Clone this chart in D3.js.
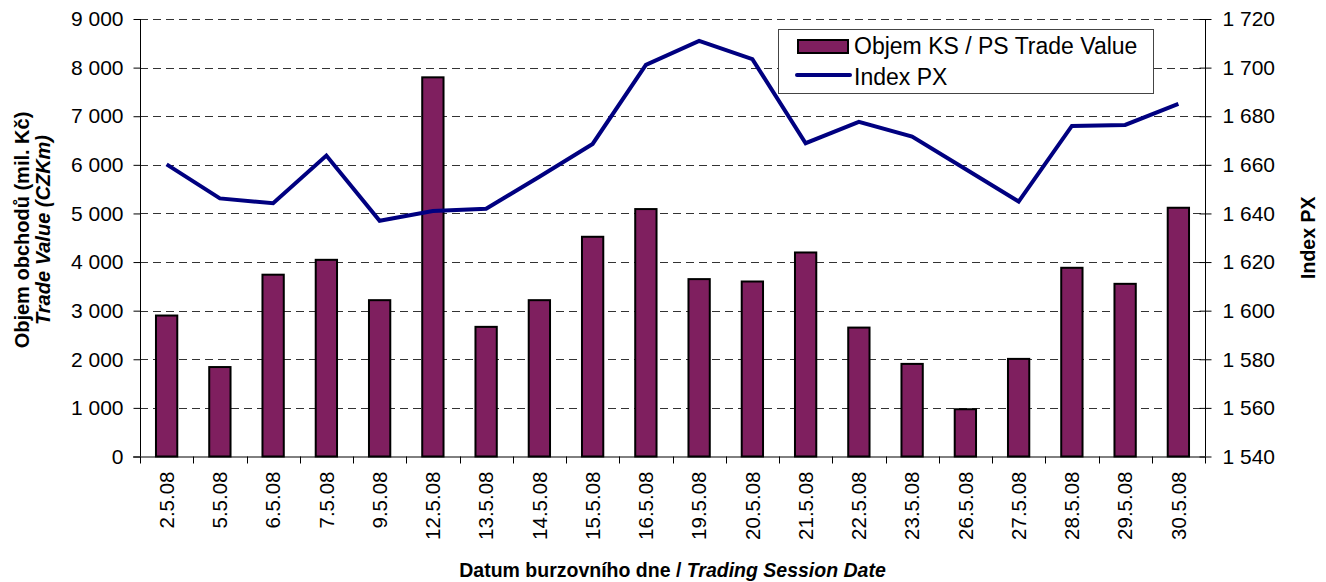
<!DOCTYPE html>
<html><head><meta charset="utf-8">
<script src="https://cdn.jsdelivr.net/npm/d3@7"></script>
<style>body{margin:0;background:#fff}svg{display:block;font-family:"Liberation Sans",Arial,sans-serif}</style>
</head><body><svg id="c" width="1326" height="582"></svg>
<script>
const dates = ["2.5.08","5.5.08","6.5.08","7.5.08","9.5.08","12.5.08","13.5.08","14.5.08","15.5.08","16.5.08","19.5.08","20.5.08","21.5.08","22.5.08","23.5.08","26.5.08","27.5.08","28.5.08","29.5.08","30.5.08"];
const tradeValue = [2900,1840,3740,4046,3216,7800,2667,3216,4520,5090,3649,3600,4197,2652,1905,972,2008,3882,3552,5117];
const indexPX = [1660.2,1646.2,1644.2,1663.8,1637.0,1641.0,1641.9,1655.1,1668.6,1701.1,1711.0,1703.5,1668.9,1677.7,1671.6,1658.3,1644.9,1676.0,1676.4,1685.1];
const leftTicks = [0,1000,2000,3000,4000,5000,6000,7000,8000,9000];
const rightTicks = [1540,1560,1580,1600,1620,1640,1660,1680,1700,1720];

const svg = d3.select("#c");
const L = 140, R = 1205, T = 19, B = 456.5;
const fmt = v => d3.format(",")(v).replace(/,/g, "\u00a0");

const x = d3.scaleBand().domain(dates).range([L, R]).paddingInner(0.6).paddingOuter(0.3);
const xTick = d3.scaleBand().domain(dates).range([L, R]).padding(0);
const yL = d3.scaleLinear().domain([0, 9000]).range([B, T]);
const yR = d3.scaleLinear().domain([1540, 1720]).range([B, T]);

// gridlines
svg.append("g").selectAll("line").data(leftTicks.slice(1)).join("line")
  .attr("x1", L).attr("x2", R)
  .attr("y1", d => Math.round(yL(d)) + 0.5).attr("y2", d => Math.round(yL(d)) + 0.5)
  .attr("stroke", "#333").attr("stroke-width", 1).attr("stroke-dasharray", "8,5");

// bars
svg.append("g").selectAll("rect").data(tradeValue).join("rect")
  .attr("x", (d, i) => x(dates[i]))
  .attr("y", d => yL(d))
  .attr("width", x.bandwidth())
  .attr("height", d => B - yL(d))
  .attr("fill", "#7f1f5f").attr("stroke", "#000").attr("stroke-width", 2);

// left axis
const gl = svg.append("g").attr("transform", `translate(${L + 0.5},0)`)
  .call(d3.axisLeft(yL).tickValues(leftTicks).tickFormat(fmt).tickSize(7).tickPadding(10));
gl.select(".domain").attr("d", `M0,${T}V${B}`).attr("stroke", "#000");
gl.selectAll("text").attr("font-size", "21px").attr("fill", "#000").attr("font-family", "Liberation Sans, Arial, sans-serif");

// right axis
const gr = svg.append("g").attr("transform", `translate(${R + 0.5},0)`)
  .call(d3.axisRight(yR).tickValues(rightTicks).tickFormat(fmt).tickSize(6).tickPadding(11));
gr.select(".domain").attr("d", `M0,${T}V${B}`).attr("stroke", "#000");
gr.selectAll(".tick line").attr("x1", -6);
gr.selectAll("text").attr("font-size", "21px").attr("fill", "#000").attr("font-family", "Liberation Sans, Arial, sans-serif");

// bottom axis
const gb = svg.append("g").attr("transform", `translate(0,${B})`);
gb.append("line").attr("x1", L - 7).attr("x2", R).attr("y1", 0.5).attr("y2", 0.5).attr("stroke", "#000");
gb.selectAll("line.t").data(dates.concat(["__end"])).join("line").attr("class", "t")
  .attr("x1", (d, i) => Math.round(L + i * xTick.step()) + 0.5)
  .attr("x2", (d, i) => Math.round(L + i * xTick.step()) + 0.5)
  .attr("y1", 0).attr("y2", 7).attr("stroke", "#000");
gb.selectAll("text").data(dates).join("text")
  .attr("transform", d => `translate(${xTick(d) + xTick.bandwidth() / 2},15) rotate(-90)`)
  .attr("dy", "0.35em").attr("text-anchor", "end")
  .attr("font-size", "20.5px").text(d => d);

// line
const line = d3.line().x((d, i) => x(dates[i]) + x.bandwidth() / 2).y(d => yR(d));
svg.append("path").datum(indexPX).attr("d", line)
  .attr("fill", "none").attr("stroke", "#000080").attr("stroke-width", 4).attr("stroke-linejoin", "miter");

// axis titles
const lt = svg.append("text").attr("transform", `translate(29,230) rotate(-90)`)
  .attr("text-anchor", "middle").attr("font-size", "20px").attr("font-weight", "bold");
lt.append("tspan").attr("x", 0).attr("y", 0).text("Objem obchodů (mil. Kč)");
lt.append("tspan").attr("x", 0).attr("y", 21).attr("font-style", "italic").text("Trade Value (CZKm)");

svg.append("text").attr("transform", `translate(1315,${(T + B) / 2}) rotate(-90)`)
  .attr("text-anchor", "middle").attr("font-size", "19.5px").attr("font-weight", "bold").text("Index PX");

const xt = svg.append("text").attr("x", (L + R) / 2).attr("y", 577).attr("text-anchor", "middle")
  .attr("font-size", "19.5px").attr("font-weight", "bold");
xt.append("tspan").text("Datum burzovního dne / ");
xt.append("tspan").attr("font-style", "italic").text("Trading Session Date");

// legend
const lg = svg.append("g");
lg.append("rect").attr("x", 778.5).attr("y", 29.5).attr("width", 375).attr("height", 64)
  .attr("fill", "#fff").attr("stroke", "#444").attr("stroke-width", 1);
lg.append("rect").attr("x", 798).attr("y", 40).attr("width", 50).attr("height", 13)
  .attr("fill", "#7f1f5f").attr("stroke", "#000").attr("stroke-width", 2);
lg.append("line").attr("x1", 797).attr("x2", 850).attr("y1", 75).attr("y2", 75)
  .attr("stroke", "#000080").attr("stroke-width", 4).attr("stroke-linecap", "round");
lg.append("text").attr("x", 854).attr("y", 54).attr("font-size", "23px").text("Objem KS / PS Trade Value");
lg.append("text").attr("x", 854).attr("y", 85).attr("font-size", "23px").text("Index PX");
</script></body></html>
